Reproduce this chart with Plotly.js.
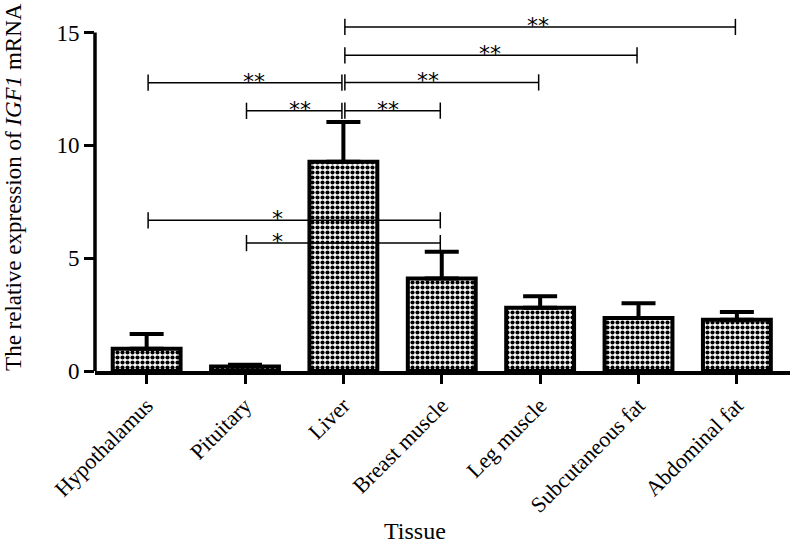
<!DOCTYPE html>
<html>
<head>
<meta charset="utf-8">
<script src="https://cdn.plot.ly/plotly-3.0.1.min.js"></script>
<style>html,body{margin:0;padding:0;background:#fff;}</style>
</head>
<body>
<div id="chart" style="width:792px;height:548px;"></div>
<script>
// Data
const tissues = ["Hypothalamus", "Pituitary", "Liver", "Breast muscle", "Leg muscle", "Subcutaneous fat", "Abdominal fat"];
const expression = [0.99, 0.20, 9.27, 4.10, 2.80, 2.35, 2.27];
const errorUp = [0.65, 0.08, 1.77, 1.19, 0.51, 0.65, 0.35];

// Significance comparisons (category index from/to, bracket level, label, label position)
const cmpFrom = [2, 2, 2, 0, 1, 2, 0, 1];
const cmpTo = [6, 5, 4, 2, 2, 3, 3, 3];
const cmpLevel = [15.25, 13.99, 12.79, 12.78, 11.53, 11.54, 6.68, 5.67];
const cmpLabel = ["**", "**", "**", "**", "**", "**", "*", "*"];
const cmpLabelPos = [3.98, 3.49, 2.86, 1.09, 1.56, 2.45, 1.33, 1.33];

const yTicks = [0, 5, 10, 15];

const serif = "Liberation Serif, Times New Roman, serif";

const trace = {
  type: "bar",
  x: tissues.map((_, i) => i),
  y: expression,
  width: 0.69,
  marker: {
    color: "white",
    line: {color: "black", width: 4},
    pattern: {shape: ".", fgcolor: "black", bgcolor: "white", size: 5, solidity: 0.55}
  },
  error_y: {
    type: "data",
    symmetric: false,
    array: errorUp,
    arrayminus: errorUp.map(() => 0),
    color: "black",
    thickness: 4,
    width: 17
  },
  hoverinfo: "none"
};

const shapes = [];
const annotations = [];
const gap = 0.015;
const tickHalf = 0.36;
for (let i = 0; i < cmpFrom.length; i++) {
  const a = cmpFrom[i] + gap, b = cmpTo[i] - gap, yv = cmpLevel[i];
  const ln = {color: "black", width: 1.5};
  shapes.push({type: "line", xref: "x", yref: "y", x0: a, x1: b, y0: yv, y1: yv, line: ln, layer: "above"});
  shapes.push({type: "line", xref: "x", yref: "y", x0: a, x1: a, y0: yv - tickHalf, y1: yv + tickHalf, line: ln, layer: "above"});
  shapes.push({type: "line", xref: "x", yref: "y", x0: b, x1: b, y0: yv - tickHalf, y1: yv + tickHalf, line: ln, layer: "above"});
  annotations.push({
    xref: "x", yref: "y", x: cmpLabelPos[i], y: yv,
    text: cmpLabel[i], showarrow: false,
    xanchor: "center", yanchor: "bottom", yshift: -13,
    font: {family: "DejaVu Sans, sans-serif", size: 22, color: "black"}
  });
}
// y axis line from 0 to top tick
shapes.push({type: "line", xref: "paper", yref: "y", x0: 0, x1: 0, y0: yTicks[0], y1: yTicks[yTicks.length - 1], line: {color: "black", width: 3.5}, layer: "above"});

annotations.push({
  xref: "paper", yref: "paper", x: -0.1165, y: 0.51,
  text: "The relative expression of <i>IGF1</i> mRNA",
  textangle: -90, showarrow: false, xanchor: "center", yanchor: "middle",
  font: {family: serif, size: 23, color: "black"}
});
annotations.push({
  xref: "paper", yref: "paper", x: 0.4604, y: -0.443,
  text: "Tissue", showarrow: false, xanchor: "center", yanchor: "middle",
  font: {family: serif, size: 24, color: "black"}
});

const layout = {
  width: 792, height: 548,
  margin: {l: 95, r: 2, t: 10, b: 177},
  paper_bgcolor: "white", plot_bgcolor: "white",
  showlegend: false,
  xaxis: {
    range: [-0.525, 6.54],
    tickmode: "array",
    tickvals: tissues.map((_, i) => i),
    ticktext: tissues,
    tickangle: -45,
    ticks: "outside", ticklen: 9, tickwidth: 3, tickcolor: "black",
    showline: true, linewidth: 4, linecolor: "black",
    showgrid: false, zeroline: false,
    tickfont: {family: serif, size: 22, color: "black"}
  },
  yaxis: {
    range: [0, 16],
    tickmode: "array",
    tickvals: yTicks,
    ticks: "outside", ticklen: 10, tickwidth: 3, tickcolor: "black",
    showline: false, showgrid: false, zeroline: false,
    tickfont: {family: serif, size: 23, color: "black"}
  },
  shapes: shapes,
  annotations: annotations
};

Plotly.newPlot("chart", [trace], layout, {staticPlot: true, displayModeBar: false});
</script>
</body>
</html>
